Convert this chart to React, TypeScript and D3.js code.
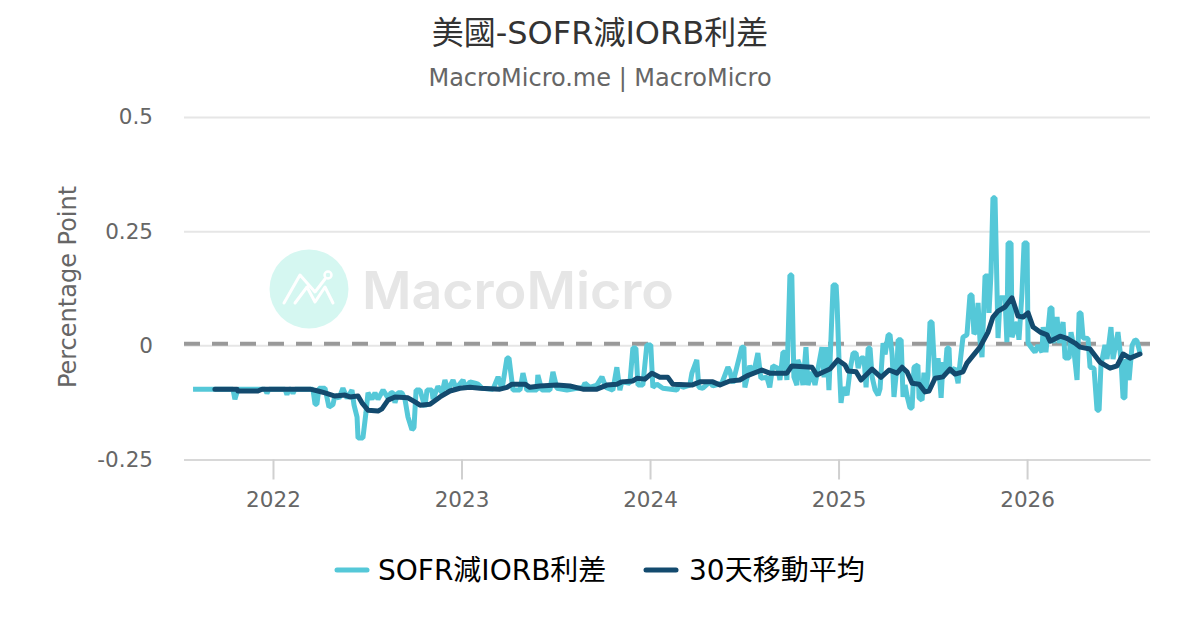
import React, { useEffect, useRef } from 'react';
import * as d3 from 'd3';

const titleText = '美國-SOFR減IORB利差';
const subtitleText = 'MacroMicro.me | MacroMicro';
const yAxisTitle = 'Percentage Point';
const legendLabels = ['SOFR減IORB利差', '30天移動平均'];
const yTicks = [0.5, 0.25, 0, -0.25];
const yTickLabels = ['0.5', '0.25', '0', '-0.25'];
const xTicks = [2022, 2023, 2024, 2025, 2026];

// decimal years
const spreadTimes = [
  2021.576, 2021.788, 2021.798, 2021.814, 2021.958, 2021.968, 2021.979, 2022.064, 2022.074, 2022.085, 2022.095, 2022.106, 2022.117,
  2022.212, 2022.223, 2022.233, 2022.244, 2022.276, 2022.297, 2022.318, 2022.329, 2022.35, 2022.371, 2022.393, 2022.419, 2022.43,
  2022.446, 2022.451, 2022.477, 2022.493, 2022.504, 2022.525, 2022.541, 2022.557, 2022.584, 2022.61, 2022.626, 2022.637, 2022.647,
  2022.663, 2022.684, 2022.7, 2022.716, 2022.737, 2022.748, 2022.759, 2022.78, 2022.806, 2022.817, 2022.843, 2022.849, 2022.875,
  2022.897, 2022.912, 2022.928, 2022.955, 2022.971, 2023.008, 2023.024, 2023.045, 2023.072, 2023.088, 2023.109, 2023.167, 2023.194,
  2023.215, 2023.241, 2023.252, 2023.273, 2023.31, 2023.326, 2023.347, 2023.4, 2023.405, 2023.426, 2023.469, 2023.485, 2023.506,
  2023.559, 2023.644, 2023.655, 2023.681, 2023.718, 2023.745, 2023.766, 2023.803, 2023.824, 2023.84, 2023.85, 2023.893, 2023.909,
  2023.925, 2023.936, 2023.962, 2023.983, 2024.004, 2024.015, 2024.036, 2024.068, 2024.142, 2024.158, 2024.174, 2024.211, 2024.222,
  2024.248, 2024.259, 2024.28, 2024.317, 2024.333, 2024.381, 2024.413, 2024.423, 2024.439, 2024.487, 2024.498, 2024.503, 2024.529,
  2024.55, 2024.572, 2024.588, 2024.62, 2024.635, 2024.651, 2024.678, 2024.689, 2024.705, 2024.715, 2024.726, 2024.742, 2024.752,
  2024.763, 2024.779, 2024.784, 2024.796, 2024.811, 2024.827, 2024.838, 2024.859, 2024.875, 2024.912, 2024.923, 2024.939, 2024.949,
  2024.971, 2024.987, 2024.992, 2025.003, 2025.013, 2025.024, 2025.045, 2025.061, 2025.077, 2025.093, 2025.104, 2025.119, 2025.135,
  2025.146, 2025.157, 2025.167, 2025.178, 2025.194, 2025.21, 2025.22, 2025.236, 2025.247, 2025.263, 2025.273, 2025.284, 2025.294,
  2025.31, 2025.316, 2025.332, 2025.342, 2025.353, 2025.363, 2025.379, 2025.39, 2025.4, 2025.421, 2025.427, 2025.443, 2025.453,
  2025.464, 2025.474, 2025.485, 2025.496, 2025.512, 2025.528, 2025.544, 2025.554, 2025.565, 2025.575, 2025.586, 2025.591, 2025.618,
  2025.634, 2025.644, 2025.66, 2025.681, 2025.697, 2025.708, 2025.718, 2025.729, 2025.74, 2025.75, 2025.761, 2025.777, 2025.793,
  2025.798, 2025.809, 2025.819, 2025.83, 2025.846, 2025.857, 2025.883, 2025.893, 2025.899, 2025.915, 2025.92, 2025.947, 2025.957,
  2025.973, 2025.984, 2026.0, 2026.005, 2026.032, 2026.042, 2026.058, 2026.079, 2026.085, 2026.1, 2026.122, 2026.132, 2026.138,
  2026.159, 2026.17, 2026.191, 2026.201, 2026.223, 2026.233, 2026.244, 2026.265, 2026.276, 2026.286, 2026.297, 2026.323, 2026.334,
  2026.355, 2026.371, 2026.382, 2026.392, 2026.413, 2026.424, 2026.445, 2026.456, 2026.482, 2026.498, 2026.509, 2026.519, 2026.525,
  2026.541, 2026.557, 2026.572, 2026.583, 2026.599,
];

const spreadValues = [
  -0.096, -0.096, -0.118, -0.096, -0.096, -0.105, -0.096, -0.096, -0.108, -0.096, -0.096, -0.105, -0.096,
  -0.096, -0.129, -0.129, -0.094, -0.094, -0.135, -0.13, -0.109, -0.116, -0.094, -0.116, -0.098, -0.131,
  -0.157, -0.203, -0.203, -0.148, -0.104, -0.118, -0.104, -0.118, -0.098, -0.115, -0.104, -0.104, -0.126,
  -0.104, -0.104, -0.118, -0.157, -0.185, -0.18, -0.098, -0.098, -0.135, -0.098, -0.098, -0.118, -0.09,
  -0.104, -0.076, -0.098, -0.076, -0.094, -0.076, -0.094, -0.08, -0.083, -0.085, -0.094, -0.096, -0.069,
  -0.096, -0.028, -0.028, -0.098, -0.098, -0.061, -0.098, -0.098, -0.065, -0.098, -0.098, -0.058, -0.094,
  -0.098, -0.092, -0.083, -0.092, -0.087, -0.069, -0.092, -0.098, -0.048, -0.098, -0.08, -0.083, -0.006,
  -0.006, -0.087, -0.087, 0.001, 0.001, -0.092, -0.085, -0.094, -0.098, -0.085, -0.092, -0.087, -0.061,
  -0.032, -0.092, -0.094, -0.08, -0.089, -0.083, -0.048, -0.056, -0.083, -0.004, -0.004, -0.092, -0.045,
  -0.06, -0.017, -0.072, -0.07, -0.092, -0.045, -0.05, -0.076, -0.015, -0.015, -0.076, 0.154, 0.154,
  -0.069, -0.087, -0.032, -0.045, -0.087, -0.004, -0.087, -0.058, -0.087, -0.004, -0.07, -0.004, -0.098,
  0.132, 0.132, 0.093, -0.039, -0.126, -0.092, -0.109, -0.054, -0.017, -0.017, -0.05, -0.028, -0.028,
  -0.092, -0.006, -0.006, -0.069, -0.098, -0.109, -0.095, 0.005, -0.02, 0.023, 0.023, -0.02, -0.113,
  -0.045, 0.012, 0.012, -0.113, -0.087, -0.11, -0.137, -0.137, -0.048, -0.043, -0.115, -0.12, -0.06,
  -0.1, -0.065, 0.051, 0.051, -0.076, -0.028, -0.115, -0.037, -0.06, -0.006, -0.006, -0.06, -0.05,
  -0.083, -0.04, 0.018, 0.023, 0.11, 0.11, 0.025, 0.03, 0.093, 0.012, -0.026, 0.152, 0.152,
  0.071, 0.161, 0.323, 0.323, 0.016, 0.104, 0.104, 0.007, 0.224, 0.224, 0.018, 0.051, 0.012,
  0.115, 0.224, 0.224, 0.005, -0.01, -0.015, 0.0, -0.015, 0.04, -0.015, 0.082, 0.082, 0.005,
  0.062, 0.005, 0.051, -0.028, -0.028, 0.029, 0.005, -0.076, 0.071, 0.071, 0.016, 0.015, -0.048,
  -0.05, -0.142, -0.142, -0.043, 0.001, -0.03, 0.04, -0.03, 0.029, -0.03, -0.115, -0.115, -0.03,
  -0.076, 0.0, 0.012, 0.01, -0.017,
];

const avgTimes = [
  2021.692, 2021.809, 2021.814, 2021.92, 2021.942, 2022.196, 2022.239, 2022.276, 2022.329, 2022.382, 2022.408, 2022.451, 2022.472,
  2022.504, 2022.557, 2022.578, 2022.61, 2022.647, 2022.716, 2022.753, 2022.78, 2022.833, 2022.886, 2022.939, 2022.992, 2023.045,
  2023.098, 2023.204, 2023.241, 2023.268, 2023.337, 2023.363, 2023.416, 2023.506, 2023.575, 2023.644, 2023.718, 2023.771, 2023.824,
  2023.85, 2023.909, 2023.931, 2023.973, 2024.01, 2024.052, 2024.094, 2024.121, 2024.222, 2024.265, 2024.333, 2024.371, 2024.423,
  2024.476, 2024.514, 2024.593, 2024.635, 2024.726, 2024.752, 2024.859, 2024.885, 2024.954, 2024.996, 2025.034, 2025.05, 2025.093,
  2025.119, 2025.178, 2025.225, 2025.268, 2025.31, 2025.337, 2025.363, 2025.39, 2025.427, 2025.459, 2025.48, 2025.512, 2025.554,
  2025.591, 2025.618, 2025.66, 2025.681, 2025.724, 2025.75, 2025.793, 2025.819, 2025.846, 2025.883, 2025.92, 2025.952, 2025.979,
  2026.005, 2026.032, 2026.069, 2026.106, 2026.122, 2026.175, 2026.207, 2026.254, 2026.281, 2026.334, 2026.387, 2026.44, 2026.477,
  2026.509, 2026.546, 2026.599,
];

const avgValues = [
  -0.096, -0.096, -0.1, -0.1, -0.096, -0.096, -0.1, -0.104, -0.111, -0.109, -0.113, -0.111, -0.126,
  -0.142, -0.144, -0.139, -0.12, -0.113, -0.115, -0.124, -0.131, -0.129, -0.113, -0.1, -0.094, -0.092,
  -0.094, -0.096, -0.092, -0.085, -0.085, -0.092, -0.089, -0.087, -0.089, -0.096, -0.096, -0.087, -0.085,
  -0.08, -0.078, -0.072, -0.074, -0.061, -0.07, -0.07, -0.085, -0.087, -0.08, -0.08, -0.087, -0.078,
  -0.076, -0.067, -0.054, -0.061, -0.061, -0.045, -0.048, -0.065, -0.052, -0.032, -0.043, -0.056, -0.058,
  -0.076, -0.052, -0.07, -0.054, -0.061, -0.048, -0.058, -0.083, -0.085, -0.102, -0.1, -0.072, -0.069,
  -0.052, -0.063, -0.058, -0.039, -0.017, -0.004, 0.029, 0.062, 0.075, 0.084, 0.104, 0.064, 0.062,
  0.071, 0.04, 0.029, 0.023, 0.009, 0.02, 0.016, 0.005, -0.004, -0.008, -0.037, -0.05, -0.045,
  -0.019, -0.028, -0.019,
];

const spreadColor = '#55c8d8';
const avgColor = '#134a6e';
const latinFont = '"DejaVu Sans", "Noto Sans CJK TC", sans-serif';

export default function App() {
  const svgRef = useRef<SVGSVGElement>(null);

  useEffect(() => {
    if (!svgRef.current) return;

    const svg = d3.select(svgRef.current);
    svg.selectAll('*').remove();

    const x = d3.scaleLinear().domain([2021.528, 2026.652]).range([184, 1150]);
    const y = d3.scaleLinear().domain([-0.25, 0.5]).range([459.5, 117]);

    svg.append('rect').attr('width', 1200).attr('height', 630).attr('fill', '#fff');

    // Watermark
    const mark = svg.append('g');
    mark.append('circle').attr('cx', 309).attr('cy', 289).attr('r', 39.5).attr('fill', '#d5f7f1');
    mark.append('path')
      .attr('d', 'M284,303 L300,275 L315,292 L325,279 M295,303 L307,287 L315,302 L325,287 L333,303')
      .attr('fill', 'none')
      .attr('stroke', '#fff')
      .attr('stroke-width', 3)
      .attr('stroke-linecap', 'round')
      .attr('stroke-linejoin', 'round');
    mark.append('circle')
      .attr('cx', 328).attr('cy', 275).attr('r', 3.5)
      .attr('fill', 'none').attr('stroke', '#fff').attr('stroke-width', 2.5);
    mark.append('text')
      .attr('x', 362).attr('y', 309)
      .attr('font-family', 'Inter, sans-serif')
      .attr('font-size', 52)
      .attr('font-weight', 600)
      .attr('fill', '#e6e6e6')
      .attr('textLength', 312)
      .attr('lengthAdjust', 'spacingAndGlyphs')
      .text('MacroMicro');

    // Y axis and grid
    const yAxis = svg.append('g')
      .attr('transform', 'translate(184,0)')
      .call(d3.axisLeft(y).tickValues(yTicks).tickSize(-966).tickPadding(31)
        .tickFormat((_, i) => yTickLabels[i]));
    yAxis.select('.domain').remove();
    yAxis.selectAll('.tick line').attr('stroke', '#e6e6e6').attr('stroke-width', 2);
    yAxis.selectAll('.tick').filter((d) => d === -0.25).select('line').attr('stroke', '#d8d8d8');
    yAxis.selectAll('.tick text')
      .attr('font-family', latinFont)
      .attr('font-size', 21.5)
      .attr('fill', '#666');

    // X axis
    const xAxis = svg.append('g')
      .attr('transform', 'translate(0,459.5)')
      .call(d3.axisBottom(x).tickValues(xTicks).tickSize(20).tickSizeOuter(0).tickPadding(12).tickFormat(d3.format('d')));
    xAxis.select('.domain').attr('stroke', '#d8d8d8').attr('stroke-width', 2);
    xAxis.selectAll('.tick line').attr('stroke', '#d0d0d0').attr('stroke-width', 2);
    xAxis.selectAll('.tick text')
      .attr('font-family', latinFont)
      .attr('font-size', 21.5)
      .attr('fill', '#666');

    // Zero reference
    svg.append('line')
      .attr('x1', 184).attr('x2', 1150)
      .attr('y1', y(0) - 1.5).attr('y2', y(0) - 1.5)
      .attr('stroke', '#999')
      .attr('stroke-width', 4)
      .attr('stroke-dasharray', '16,12');

    // Series
    const line = d3.line<[number, number]>()
      .x((d) => x(d[0]))
      .y((d) => y(d[1]));

    svg.append('path')
      .datum(spreadTimes.map((t, i) => [t, spreadValues[i]] as [number, number]))
      .attr('fill', 'none')
      .attr('stroke', spreadColor)
      .attr('stroke-width', 5)
      .attr('stroke-linejoin', 'bevel')
      .attr('d', line);

    svg.append('path')
      .datum(avgTimes.map((t, i) => [t, avgValues[i]] as [number, number]))
      .attr('fill', 'none')
      .attr('stroke', avgColor)
      .attr('stroke-width', 5)
      .attr('stroke-linejoin', 'round')
      .attr('stroke-linecap', 'round')
      .attr('d', line);

    // Titles
    svg.append('text')
      .attr('x', 600).attr('y', 44)
      .attr('text-anchor', 'middle')
      .attr('font-family', latinFont)
      .attr('font-size', 32)
      .attr('fill', '#333')
      .text(titleText);
    svg.append('text')
      .attr('x', 600).attr('y', 86)
      .attr('text-anchor', 'middle')
      .attr('font-family', latinFont)
      .attr('font-size', 24)
      .attr('fill', '#666')
      .text(subtitleText);
    svg.append('text')
      .attr('transform', 'translate(76,287) rotate(-90)')
      .attr('text-anchor', 'middle')
      .attr('font-family', latinFont)
      .attr('font-size', 24)
      .attr('fill', '#666')
      .text(yAxisTitle);

    // Legend
    const legendX = [337, 646];
    [spreadColor, avgColor].forEach((color, i) => {
      svg.append('line')
        .attr('x1', legendX[i]).attr('x2', legendX[i] + 30)
        .attr('y1', 570).attr('y2', 570)
        .attr('stroke', color)
        .attr('stroke-width', 5)
        .attr('stroke-linecap', 'round');
      svg.append('text')
        .attr('x', legendX[i] + (i === 0 ? 41 : 43)).attr('y', 580)
        .attr('font-family', latinFont)
        .attr('font-size', 28)
        .attr('fill', '#000')
        .text(legendLabels[i]);
    });
  }, []);

  return (
    <svg
      ref={svgRef}
      width={1200}
      height={630}
      viewBox="0 0 1200 630"
      style={{ position: 'absolute', top: 0, left: 0, display: 'block' }}
    />
  );
}
